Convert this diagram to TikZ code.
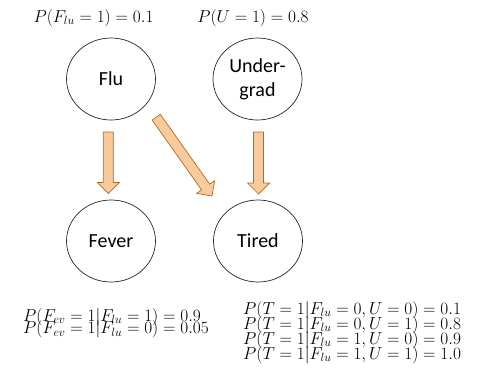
\documentclass[tikz,border=0pt]{standalone}
\usepackage{fontspec}
\newfontfamily\nodefont{Carlito}
\usetikzlibrary{shapes.geometric,calc}
\definecolor{arrowfill}{HTML}{F8CB9C}
\definecolor{arrowline}{HTML}{B46A1E}

% block arrow from #1 to tip #2, #3 names the base of the head
\newcommand{\fatarrow}[3]{%
  \coordinate (#3) at ($(#2)!11pt!(#1)$);
  \draw[fat] ($(#1)!5pt!90:(#2)$) -- ($(#3)!5pt!90:(#2)$) -- ($(#3)!11pt!90:(#2)$) -- (#2)
    -- ($(#3)!11pt!-90:(#2)$) -- ($(#3)!5pt!-90:(#2)$) -- ($(#1)!5pt!-90:(#2)$) -- cycle;}

\begin{document}
\begin{tikzpicture}[x=1pt,y=-1pt,
    var/.style={ellipse,draw=black!85,line width=0.7pt,minimum width=89pt,minimum height=82pt,
      inner sep=0pt,align=center,font=\nodefont\fontsize{20}{24}\selectfont},
    prob/.style={inner sep=0pt,font=\fontsize{17}{18}\selectfont},
    fat/.style={draw=arrowline,fill=arrowfill,line width=0.7pt,line join=miter}]
    \useasboundingbox (0,0) rectangle (488,384);
    % variables
    \node[var] (flu) at (111,79) {Flu};
    \node[var] (ugrad) at (257.5,79) {Under-\\grad};
    \node[var] (fever) at (111,241) {Fever};
    \node[var] (tired) at (258,241) {Tired};
    % arrows
    \coordinate (A0) at (108.3,132);
    \coordinate (A1) at (108.3,193.5);
    \coordinate (A2) at (156.2,117.2);
    \coordinate (A3) at (212,196);
    \coordinate (A4) at (258.5,132);
    \coordinate (A5) at (258.5,194);
    \fatarrow{A0}{A1}{H1}
    \fatarrow{A2}{A3}{H2}
    \fatarrow{A4}{A5}{H3}
    % tables
    \node[prob,anchor=base] (pflu) at (93.5,22) {$P(F_{lu}=1)=0.1$};
    \node[prob,anchor=base] (pu) at (253,22) {$P(U=1)=0.8$};
    \node[prob,anchor=base west] (pf1) at (23,321) {$P(F_{ev}=1|F_{lu}=1)=0.9$};
    \node[prob,anchor=base west] (pf0) at (23,333.5) {$P(F_{ev}=1|F_{lu}=0)=0.05$};
    \node[prob,anchor=base west] (pt00) at (243,314) {$P(T=1|F_{lu}=0,U=0)=0.1$};
    \node[prob,anchor=base west] (pt01) at (243,329) {$P(T=1|F_{lu}=0,U=1)=0.8$};
    \node[prob,anchor=base west] (pt10) at (243,344) {$P(T=1|F_{lu}=1,U=0)=0.9$};
    \node[prob,anchor=base west] (pt11) at (243,359) {$P(T=1|F_{lu}=1,U=1)=1.0$};
\end{tikzpicture}
\end{document}
